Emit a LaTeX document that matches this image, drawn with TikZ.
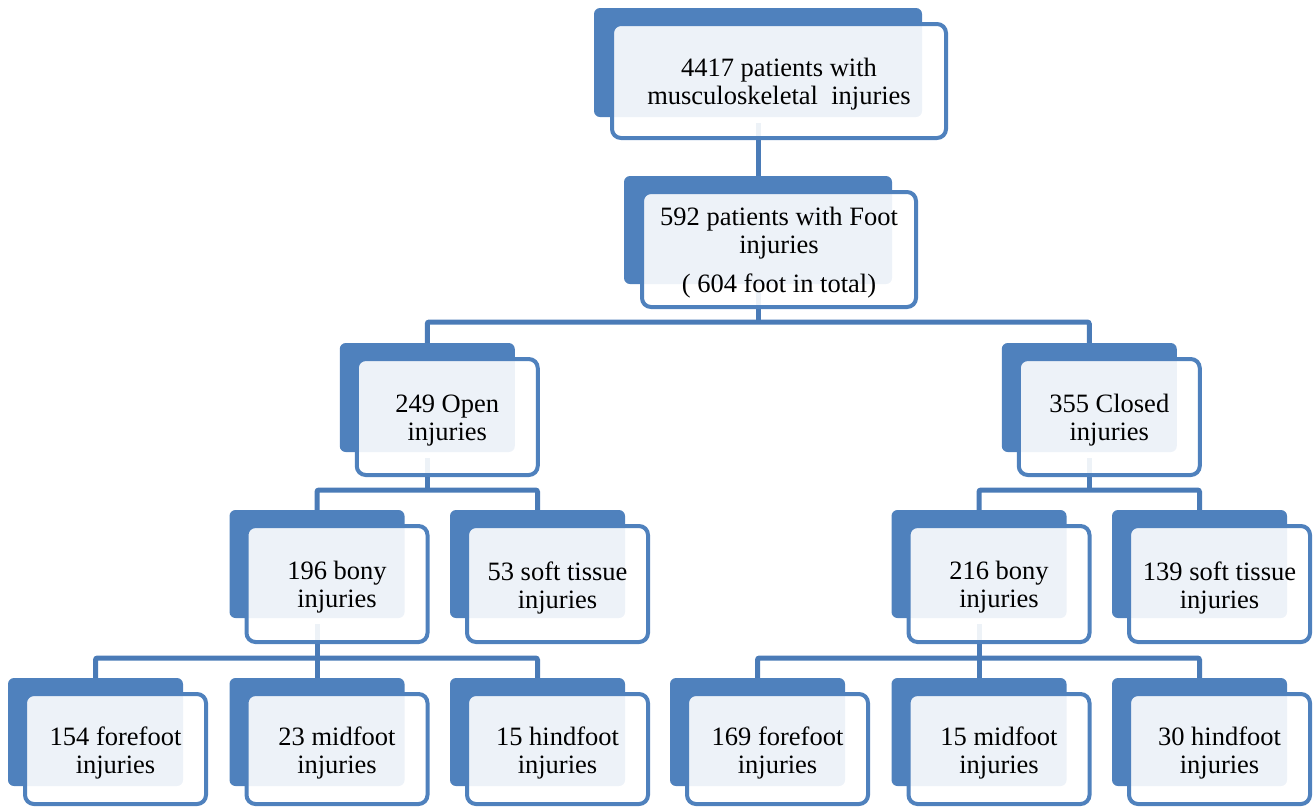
\documentclass[tikz,border=0pt]{standalone}
\usepackage{fontspec}
\setmainfont{Liberation Serif}
\usetikzlibrary{calc}
\pgfdeclarelayer{bg}
\pgfsetlayers{bg,main}
\definecolor{boxblue}{HTML}{4F81BD}
\definecolor{lineblue}{HTML}{4A7BB7}
\tikzset{
  backbox/.style={fill=boxblue, rounded corners=6pt, inner sep=0pt, outer sep=0pt, anchor=north west},
  frontbox/.style={draw=boxblue, line width=4pt, fill=white, fill opacity=0.9, rounded corners=9pt, inner sep=0pt, outer sep=0pt, anchor=north west},
  txt/.style={font=\fontsize{26.5}{28}\selectfont, align=center, text=black, inner sep=0pt, yshift=-3.5pt},
  conn/.style={draw=lineblue, line width=5pt, rounded corners=2pt}
}
\newcommand\chartbox[9]{%
  \node[backbox, minimum width=#4, minimum height=#5] (#1) at (#2,#3) {};
  \node[frontbox, minimum width=#7, minimum height=#8] (#1-f) at (#2+#6,#3+16) {};
  \node[txt] (#1-t) at (#1-f.center) {#9};
}
\begin{document}
\begin{tikzpicture}[x=1pt,y=-1pt]
\useasboundingbox (0,0) rectangle (1314,807);
% level 0 and 1
\chartbox{top}{594}{8}{328}{109}{18}{334}{114}{4417 patients with\\musculoskeletal\ \ injuries}
\chartbox{foot}{624}{176}{268}{108}{18}{274}{115}{592 patients with Foot\\injuries\\[11pt]( 604 foot in total)}
% level 2
\chartbox{open}{339.75}{343}{175}{109}{17}{181}{116}{249 Open\\injuries}
\chartbox{closed}{1001.75}{343}{175}{109}{17}{181}{116}{355 Closed\\injuries}
% level 3
\chartbox{obony}{229.5}{510}{175}{108}{17}{181}{116}{196 bony\\injuries}
\chartbox{osoft}{450}{510}{175}{108}{17}{181}{116}{53 soft tissue\\injuries}
\chartbox{cbony}{891.5}{510}{175}{108}{17}{181}{116}{216 bony\\injuries}
\chartbox{csoft}{1112}{510}{175}{108}{17}{181}{116}{139 soft tissue\\injuries}
% level 4
\chartbox{ofore}{8}{678}{175}{108}{17}{181}{110}{154 forefoot\\injuries}
\chartbox{omid}{229.5}{678}{175}{108}{17}{181}{110}{23 midfoot\\injuries}
\chartbox{ohind}{450}{678}{175}{108}{17}{181}{110}{15 hindfoot\\injuries}
\chartbox{cfore}{670}{678}{175}{108}{17}{181}{110}{169 forefoot\\injuries}
\chartbox{cmid}{891.5}{678}{175}{108}{17}{181}{110}{15 midfoot\\injuries}
\chartbox{chind}{1112}{678}{175}{108}{17}{181}{110}{30 hindfoot\\injuries}
% junctions
\coordinate (j1) at (758,322);
\coordinate (j2) at (427.25,490);
\coordinate (j3) at (1089.25,490);
\coordinate (j4) at (317,658);
\coordinate (j5) at (979,658);
\begin{pgfonlayer}{bg}
\draw[conn] ([yshift=-6pt]top.south) -- (foot.north);
\draw[conn] ([yshift=-6pt]foot.south) -- (j1);
\draw[conn] (open.north) |- (j1) -| (closed.north);
\draw[conn] ([yshift=-6pt]open.south) -- (j2);
\draw[conn] (obony.north) |- (j2) -| (osoft.north);
\draw[conn] ([yshift=-6pt]closed.south) -- (j3);
\draw[conn] (cbony.north) |- (j3) -| (csoft.north);
\draw[conn] ([yshift=-6pt]obony.south) -- (j4);
\draw[conn] (ofore.north) |- (j4) -| (ohind.north);
\draw[conn] (j4) -- (omid.north);
\draw[conn] ([yshift=-6pt]cbony.south) -- (j5);
\draw[conn] (cfore.north) |- (j5) -| (chind.north);
\draw[conn] (j5) -- (cmid.north);
\end{pgfonlayer}
\end{tikzpicture}
\end{document}
